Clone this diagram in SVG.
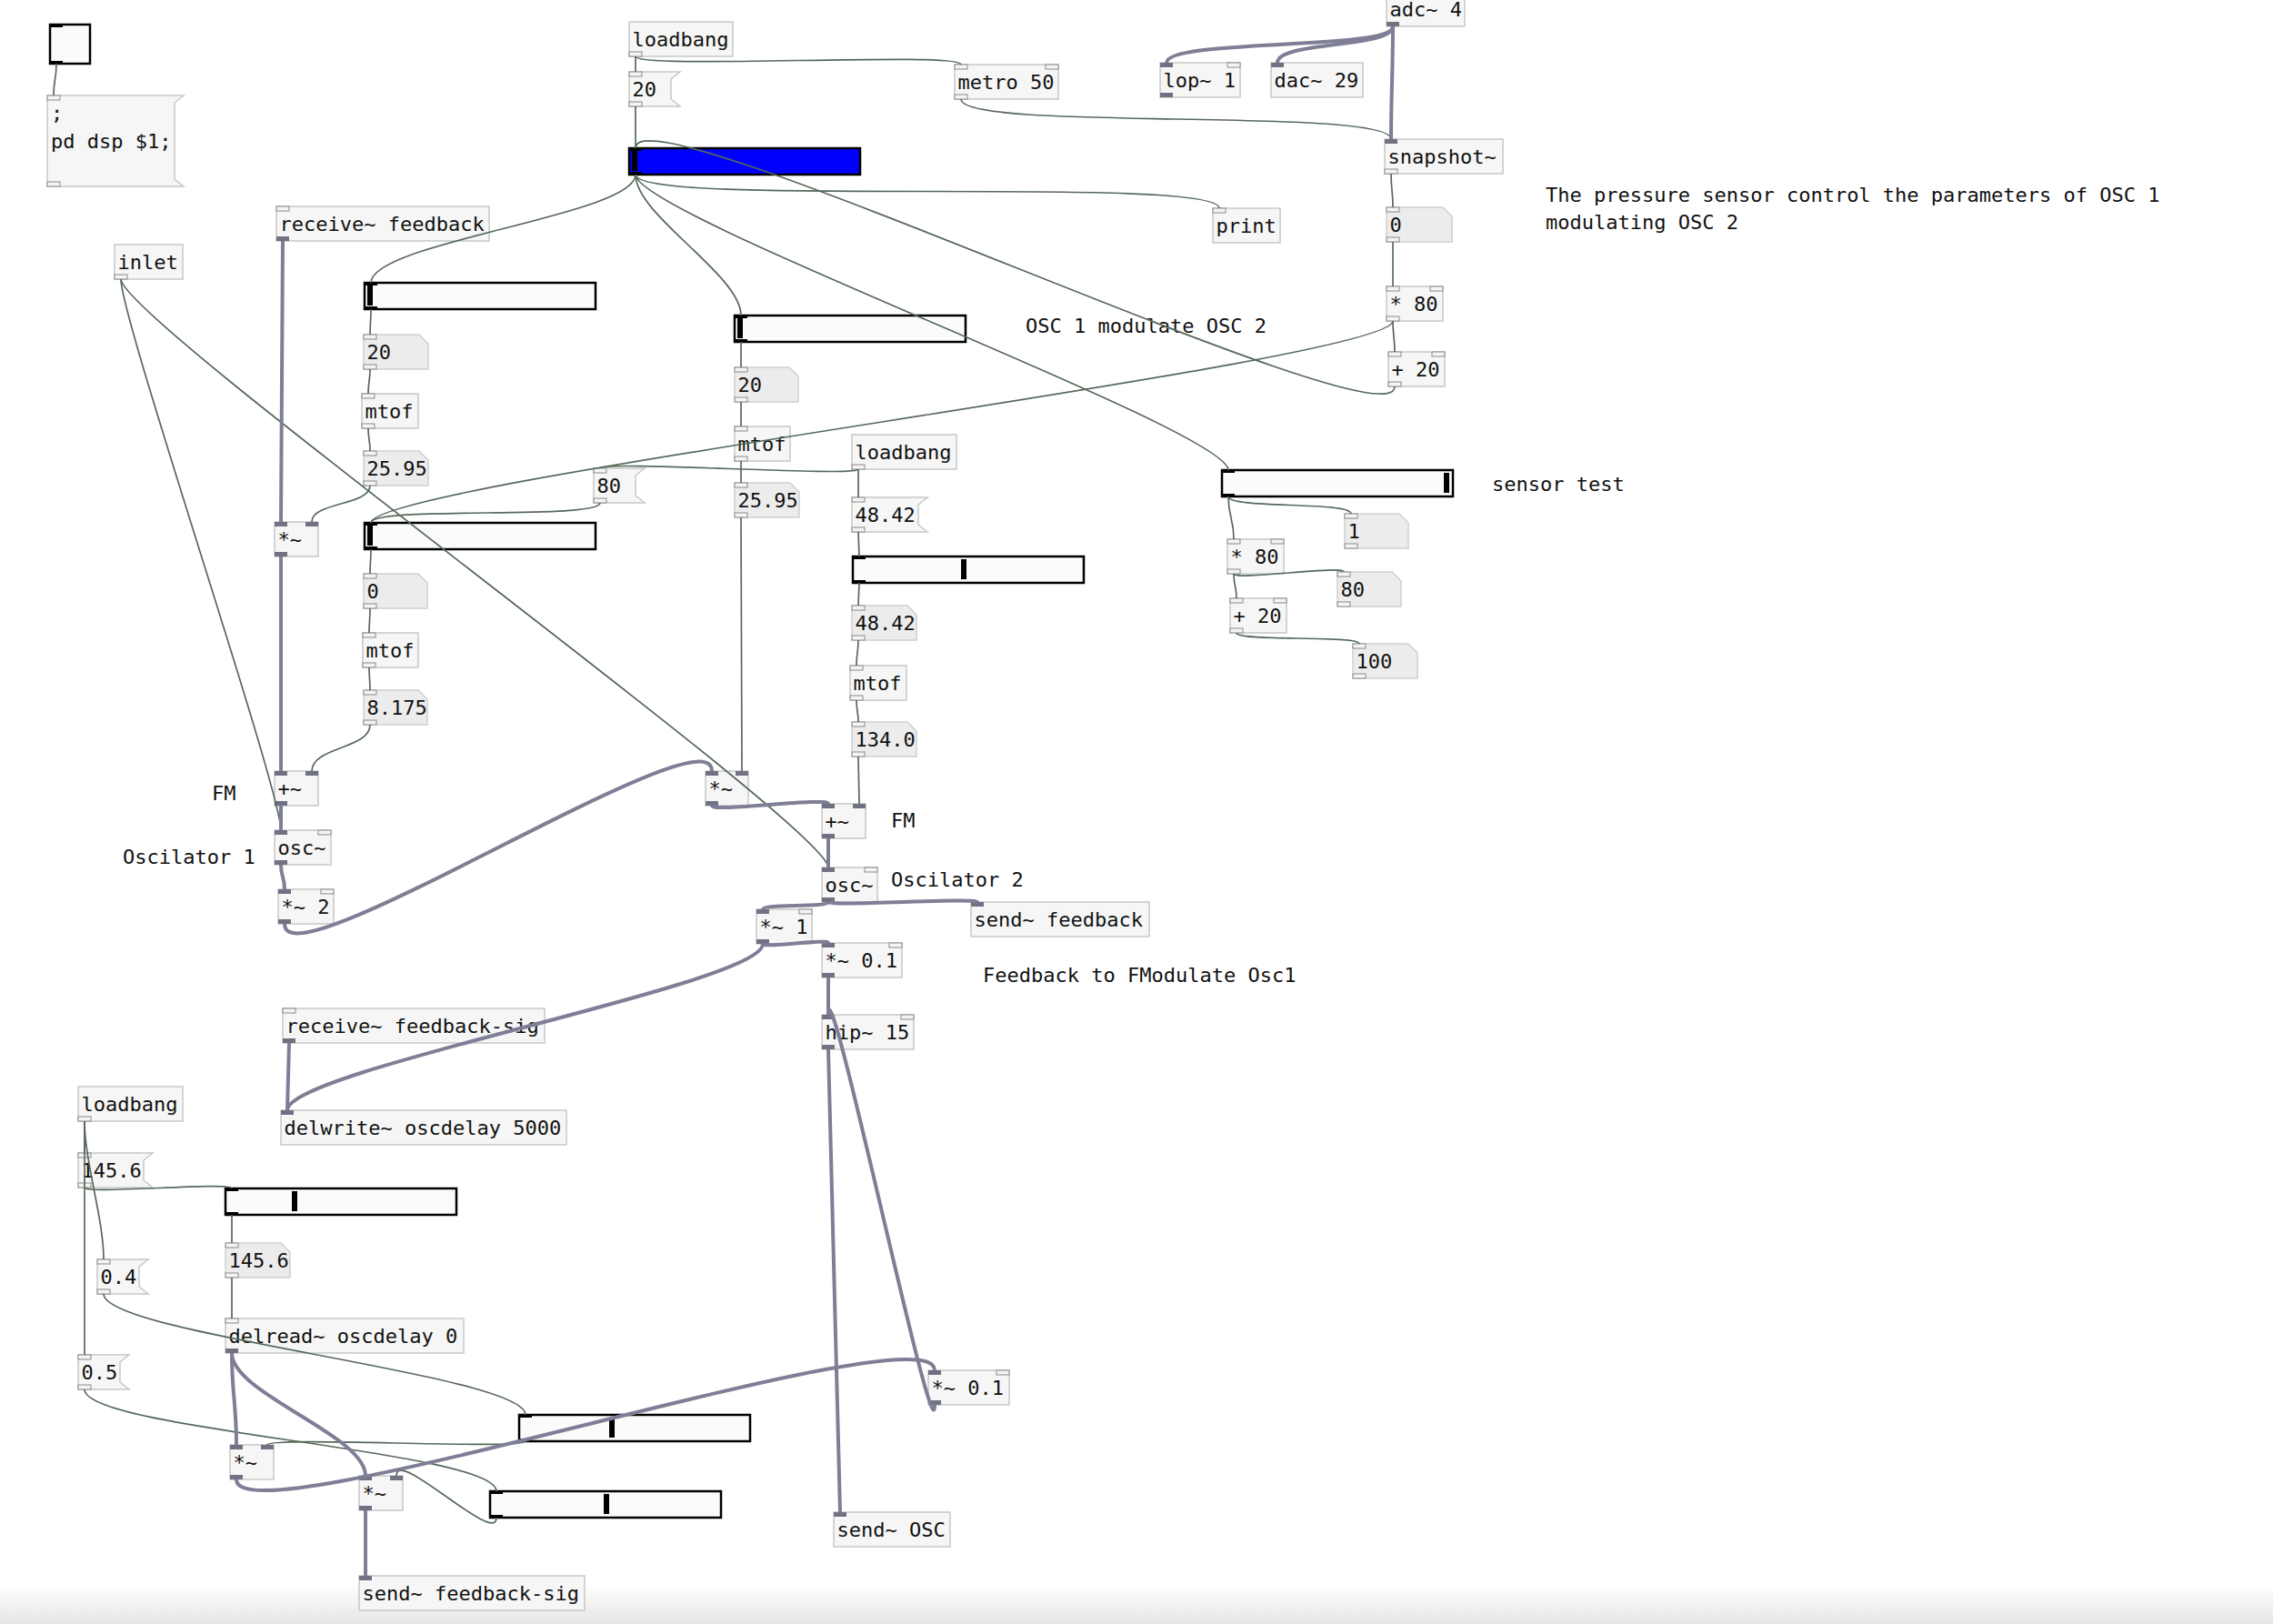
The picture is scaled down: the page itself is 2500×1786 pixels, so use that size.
<svg xmlns="http://www.w3.org/2000/svg" xmlns:xlink="http://www.w3.org/1999/xlink" width="2500" height="1786" viewBox="0 0 2500 1786">
<style>
.o{fill:#f5f6f5;stroke:#c8c8c8;stroke-width:1.5}
.a{fill:#ececec;stroke:#d0d0d0;stroke-width:1.5}
.t{font-family:"DejaVu Sans Mono","Liberation Mono",monospace;font-size:22px;fill:#111}
.sl{fill:#fbfbfb;stroke:#000;stroke-width:2.5}
.k{fill:#000}
.c{fill:none;stroke:#56695a;stroke-width:1.7}
.s{fill:none;stroke:#7e7e96;stroke-width:4}
</style>
<defs>
<rect id="ic" width="14" height="5" fill="#f4f4f4" stroke="#8a8a8a" stroke-width="1"/>
<rect id="is" width="14" height="5" fill="#717184"/>
<linearGradient id="bg" x1="0" y1="0" x2="0" y2="1"><stop offset="0" stop-color="#ffffff"/><stop offset="1" stop-color="#e6e6e6"/></linearGradient>
</defs>
<rect width="2500" height="1786" fill="#fff"/>
<rect x="0" y="1742" width="2500" height="44" fill="url(#bg)"/>

<g id="nodes">
<g id="toggle"><rect class="sl" x="55" y="27" width="44" height="43"/><rect class="k" x="55" y="27" width="14" height="3"/><rect class="k" x="55" y="67" width="14" height="3"/></g>
<g id="msg_dsp"><polygon class="o" points="52,105 202,105 192,113 192,197 202,205 52,205"/><use href="#ic" x="52" y="105"/><use href="#ic" x="52" y="200"/><text class="t" x="56" y="132">;</text><text class="t" x="56" y="163">pd dsp $1;</text></g>

<g id="loadbang1"><rect class="o" x="692" y="24" width="114" height="38"/><use href="#ic" x="692" y="57"/><text class="t" x="695.5" y="51">loadbang</text></g>
<g id="msg20"><polygon class="o" points="692,79 748,79 738,87 738,109 748,117 692,117"/><use href="#ic" x="692" y="79"/><use href="#ic" x="692" y="112"/><text class="t" x="695.5" y="106">20</text></g>
<g id="slider_blue"><rect x="692" y="163" width="254" height="29" fill="#0000ff" stroke="#000" stroke-width="2.5"/><rect class="k" x="695" y="166" width="6" height="22"/><rect class="k" x="692" y="163" width="14" height="3"/><rect class="k" x="692" y="189" width="14" height="3"/></g>
<g id="metro"><rect class="o" x="1050" y="71" width="114" height="38"/><use href="#ic" x="1050" y="71"/><use href="#ic" x="1150" y="71"/><use href="#ic" x="1050" y="104"/><text class="t" x="1053.5" y="98">metro 50</text></g>
<g id="adc"><rect class="o" x="1525" y="-9" width="86" height="38"/><use href="#is" x="1525" y="24"/><text class="t" x="1528.5" y="18">adc~ 4</text></g>
<g id="lop"><rect class="o" x="1276" y="69" width="88" height="38"/><use href="#is" x="1276" y="69"/><use href="#ic" x="1350" y="69"/><use href="#is" x="1276" y="102"/><text class="t" x="1279.5" y="96">lop~ 1</text></g>
<g id="dac"><rect class="o" x="1398" y="69" width="101" height="38"/><use href="#is" x="1398" y="69"/><text class="t" x="1401.5" y="96">dac~ 29</text></g>
<g id="snapshot"><rect class="o" x="1523" y="153" width="130" height="38"/><use href="#is" x="1523" y="153"/><use href="#ic" x="1523" y="186"/><text class="t" x="1526.5" y="180">snapshot~</text></g>
<g id="print"><rect class="o" x="1334" y="229" width="74" height="38"/><use href="#ic" x="1334" y="229"/><text class="t" x="1337.5" y="256">print</text></g>
<g id="num_snap"><polygon class="a" points="1525,228 1587,228 1597,238 1597,266 1525,266"/><use href="#ic" x="1525" y="228"/><use href="#ic" x="1525" y="261"/><text class="t" x="1528.5" y="255">0</text></g>
<g id="mul80_u"><rect class="o" x="1525" y="315" width="62" height="38"/><use href="#ic" x="1525" y="315"/><use href="#ic" x="1573" y="315"/><use href="#ic" x="1525" y="348"/><text class="t" x="1528.5" y="342">* 80</text></g>
<g id="add20_u"><rect class="o" x="1527" y="387" width="62" height="38"/><use href="#ic" x="1527" y="387"/><use href="#ic" x="1575" y="387"/><use href="#ic" x="1527" y="420"/><text class="t" x="1530.5" y="414">+ 20</text></g>
<g id="cmt_pressure"><text class="t" x="1700" y="222">The pressure sensor control the parameters of OSC 1</text><text class="t" x="1700" y="252">modulating OSC 2</text></g>
<g id="cmt_osc1mod"><text class="t" x="1128" y="366">OSC 1 modulate OSC 2</text></g>
<g id="cmt_sensor"><text class="t" x="1641" y="540">sensor test</text></g>

<g id="slider_sensor"><rect class="sl" x="1344" y="517" width="254" height="29"/><rect class="k" x="1588" y="520" width="6" height="22"/><rect class="k" x="1344" y="517" width="14" height="3"/><rect class="k" x="1344" y="543" width="14" height="3"/></g>
<g id="num_1"><polygon class="a" points="1479,565 1539,565 1549,575 1549,603 1479,603"/><use href="#ic" x="1479" y="565"/><use href="#ic" x="1479" y="598"/><text class="t" x="1482.5" y="592">1</text></g>
<g id="mul80_l"><rect class="o" x="1350" y="593" width="62" height="38"/><use href="#ic" x="1350" y="593"/><use href="#ic" x="1398" y="593"/><use href="#ic" x="1350" y="626"/><text class="t" x="1353.5" y="620">* 80</text></g>
<g id="num_80l"><polygon class="a" points="1471,629 1531,629 1541,639 1541,667 1471,667"/><use href="#ic" x="1471" y="629"/><use href="#ic" x="1471" y="662"/><text class="t" x="1474.5" y="656">80</text></g>
<g id="add20_l"><rect class="o" x="1353" y="658" width="62" height="38"/><use href="#ic" x="1353" y="658"/><use href="#ic" x="1401" y="658"/><use href="#ic" x="1353" y="691"/><text class="t" x="1356.5" y="685">+ 20</text></g>
<g id="num_100"><polygon class="a" points="1488,708 1549,708 1559,718 1559,746 1488,746"/><use href="#ic" x="1488" y="708"/><use href="#ic" x="1488" y="741"/><text class="t" x="1491.5" y="735">100</text></g>

<g id="recv_fb"><rect class="o" x="304" y="227" width="234" height="38"/><use href="#ic" x="304" y="227"/><use href="#is" x="304" y="260"/><text class="t" x="307.5" y="254">receive~ feedback</text></g>
<g id="inlet"><rect class="o" x="126" y="269" width="75" height="38"/><use href="#ic" x="126" y="302"/><text class="t" x="129.5" y="296">inlet</text></g>
<g id="slider_a"><rect class="sl" x="401" y="311" width="254" height="29"/><rect class="k" x="404" y="314" width="6" height="22"/><rect class="k" x="401" y="311" width="14" height="3"/><rect class="k" x="401" y="337" width="14" height="3"/></g>
<g id="num_20a"><polygon class="a" points="400,368 461,368 471,378 471,406 400,406"/><use href="#ic" x="400" y="368"/><use href="#ic" x="400" y="401"/><text class="t" x="403.5" y="395">20</text></g>
<g id="mtof_a"><rect class="o" x="398" y="433" width="62" height="38"/><use href="#ic" x="398" y="433"/><use href="#ic" x="398" y="466"/><text class="t" x="401.5" y="460">mtof</text></g>
<g id="num_2595a"><polygon class="a" points="400,496 461,496 471,506 471,534 400,534"/><use href="#ic" x="400" y="496"/><use href="#ic" x="400" y="529"/><text class="t" x="403.5" y="523">25.95</text></g>
<g id="msg80"><polygon class="o" points="653,515 709,515 699,523 699,545 709,553 653,553"/><use href="#ic" x="653" y="515"/><use href="#ic" x="653" y="548"/><text class="t" x="656.5" y="542">80</text></g>
<g id="mul_a"><rect class="o" x="302" y="574" width="48" height="38"/><use href="#is" x="302" y="574"/><use href="#is" x="336" y="574"/><use href="#is" x="302" y="607"/><text class="t" x="305.5" y="601">*~</text></g>
<g id="slider_b"><rect class="sl" x="401" y="575" width="254" height="29"/><rect class="k" x="404" y="578" width="6" height="22"/><rect class="k" x="401" y="575" width="14" height="3"/><rect class="k" x="401" y="601" width="14" height="3"/></g>
<g id="num_0b"><polygon class="a" points="400,631 460,631 470,641 470,669 400,669"/><use href="#ic" x="400" y="631"/><use href="#ic" x="400" y="664"/><text class="t" x="403.5" y="658">0</text></g>
<g id="mtof_b"><rect class="o" x="399" y="696" width="61" height="38"/><use href="#ic" x="399" y="696"/><use href="#ic" x="399" y="729"/><text class="t" x="402.5" y="723">mtof</text></g>
<g id="num_8175"><polygon class="a" points="400,759 460,759 470,769 470,797 400,797"/><use href="#ic" x="400" y="759"/><use href="#ic" x="400" y="792"/><text class="t" x="403.5" y="786">8.175</text></g>
<g id="add_a"><rect class="o" x="302" y="848" width="48" height="38"/><use href="#is" x="302" y="848"/><use href="#is" x="336" y="848"/><use href="#is" x="302" y="881"/><text class="t" x="305.5" y="875">+~</text></g>
<g id="cmt_fm1"><text class="t" x="233" y="880">FM</text></g>
<g id="osc_a"><rect class="o" x="302" y="913" width="62" height="38"/><use href="#is" x="302" y="913"/><use href="#ic" x="350" y="913"/><use href="#is" x="302" y="946"/><text class="t" x="305.5" y="940">osc~</text></g>
<g id="cmt_osc1"><text class="t" x="135" y="950">Oscilator 1</text></g>
<g id="mul2"><rect class="o" x="306" y="978" width="61" height="38"/><use href="#is" x="306" y="978"/><use href="#ic" x="353" y="978"/><use href="#is" x="306" y="1011"/><text class="t" x="309.5" y="1005">*~ 2</text></g>

<g id="slider_d"><rect class="sl" x="808" y="347" width="254" height="29"/><rect class="k" x="811" y="350" width="6" height="22"/><rect class="k" x="808" y="347" width="14" height="3"/><rect class="k" x="808" y="373" width="14" height="3"/></g>
<g id="num_20d"><polygon class="a" points="808,404 868,404 878,414 878,442 808,442"/><use href="#ic" x="808" y="404"/><use href="#ic" x="808" y="437"/><text class="t" x="811.5" y="431">20</text></g>
<g id="mtof_d"><rect class="o" x="808" y="469" width="61" height="38"/><use href="#ic" x="808" y="469"/><use href="#ic" x="808" y="502"/><text class="t" x="811.5" y="496">mtof</text></g>
<g id="num_2595d"><polygon class="a" points="808,531 869,531 879,541 879,569 808,569"/><use href="#ic" x="808" y="531"/><use href="#ic" x="808" y="564"/><text class="t" x="811.5" y="558">25.95</text></g>
<g id="mul_mid"><rect class="o" x="776" y="848" width="47" height="38"/><use href="#is" x="776" y="848"/><use href="#is" x="809" y="848"/><use href="#is" x="776" y="881"/><text class="t" x="779.5" y="875">*~</text></g>
<g id="loadbang2"><rect class="o" x="937" y="478" width="115" height="38"/><use href="#ic" x="937" y="511"/><text class="t" x="940.5" y="505">loadbang</text></g>
<g id="msg4842"><polygon class="o" points="937,547 1020,547 1010,555 1010,577 1020,585 937,585"/><use href="#ic" x="937" y="547"/><use href="#ic" x="937" y="580"/><text class="t" x="940.5" y="574">48.42</text></g>
<g id="slider_c"><rect class="sl" x="938" y="612" width="254" height="29"/><rect class="k" x="1057" y="615" width="6" height="22"/><rect class="k" x="938" y="612" width="14" height="3"/><rect class="k" x="938" y="638" width="14" height="3"/></g>
<g id="num_4842"><polygon class="a" points="937,666 998,666 1008,676 1008,704 937,704"/><use href="#ic" x="937" y="666"/><use href="#ic" x="937" y="699"/><text class="t" x="940.5" y="693">48.42</text></g>
<g id="mtof_c"><rect class="o" x="935" y="732" width="62" height="38"/><use href="#ic" x="935" y="732"/><use href="#ic" x="935" y="765"/><text class="t" x="938.5" y="759">mtof</text></g>
<g id="num_134"><polygon class="a" points="937,794 998,794 1008,804 1008,832 937,832"/><use href="#ic" x="937" y="794"/><use href="#ic" x="937" y="827"/><text class="t" x="940.5" y="821">134.0</text></g>
<g id="add_b"><rect class="o" x="904" y="884" width="48" height="38"/><use href="#is" x="904" y="884"/><use href="#is" x="938" y="884"/><use href="#is" x="904" y="917"/><text class="t" x="907.5" y="911">+~</text></g>
<g id="cmt_fm2"><text class="t" x="980" y="910">FM</text></g>
<g id="osc_b"><rect class="o" x="904" y="954" width="61" height="38"/><use href="#is" x="904" y="954"/><use href="#ic" x="951" y="954"/><use href="#is" x="904" y="987"/><text class="t" x="907.5" y="981">osc~</text></g>
<g id="cmt_osc2"><text class="t" x="980" y="975">Oscilator 2</text></g>
<g id="mul1"><rect class="o" x="832" y="1000" width="61" height="38"/><use href="#is" x="832" y="1000"/><use href="#ic" x="879" y="1000"/><use href="#is" x="832" y="1033"/><text class="t" x="835.5" y="1027">*~ 1</text></g>
<g id="send_fb"><rect class="o" x="1068" y="992" width="196" height="38"/><use href="#is" x="1068" y="992"/><text class="t" x="1071.5" y="1019">send~ feedback</text></g>
<g id="mul01_u"><rect class="o" x="904" y="1037" width="88" height="38"/><use href="#is" x="904" y="1037"/><use href="#ic" x="978" y="1037"/><use href="#is" x="904" y="1070"/><text class="t" x="907.5" y="1064">*~ 0.1</text></g>
<g id="cmt_feedback"><text class="t" x="1081" y="1080">Feedback to FModulate Osc1</text></g>
<g id="recv_fbsig"><rect class="o" x="311" y="1109" width="288" height="38"/><use href="#ic" x="311" y="1109"/><use href="#is" x="311" y="1142"/><text class="t" x="314.5" y="1136">receive~ feedback-sig</text></g>
<g id="delwrite"><rect class="o" x="309" y="1221" width="314" height="38"/><use href="#is" x="309" y="1221"/><text class="t" x="312.5" y="1248">delwrite~ oscdelay 5000</text></g>
<g id="hip"><rect class="o" x="904" y="1116" width="101" height="38"/><use href="#is" x="904" y="1116"/><use href="#ic" x="991" y="1116"/><use href="#is" x="904" y="1149"/><text class="t" x="907.5" y="1143">hip~ 15</text></g>
<g id="send_osc"><rect class="o" x="917" y="1663" width="128" height="38"/><use href="#is" x="917" y="1663"/><text class="t" x="920.5" y="1690">send~ OSC</text></g>
<g id="mul01_l"><rect class="o" x="1021" y="1507" width="89" height="38"/><use href="#is" x="1021" y="1507"/><use href="#ic" x="1096" y="1507"/><use href="#is" x="1021" y="1540"/><text class="t" x="1024.5" y="1534">*~ 0.1</text></g>

<g id="loadbang3"><rect class="o" x="86" y="1195" width="115" height="38"/><use href="#ic" x="86" y="1228"/><text class="t" x="89.5" y="1222">loadbang</text></g>
<g id="msg1456"><polygon class="o" points="86,1268 168,1268 158,1276 158,1298 168,1306 86,1306"/><use href="#ic" x="86" y="1268"/><use href="#ic" x="86" y="1301"/><text class="t" x="89.5" y="1295">145.6</text></g>
<g id="slider_e"><rect class="sl" x="248" y="1307" width="254" height="29"/><rect class="k" x="321" y="1310" width="6" height="22"/><rect class="k" x="248" y="1307" width="14" height="3"/><rect class="k" x="248" y="1333" width="14" height="3"/></g>
<g id="num_1456"><polygon class="a" points="248,1367 309,1367 319,1377 319,1405 248,1405"/><use href="#ic" x="248" y="1367"/><use href="#ic" x="248" y="1400"/><text class="t" x="251.5" y="1394">145.6</text></g>
<g id="msg04"><polygon class="o" points="107,1385 163,1385 153,1393 153,1415 163,1423 107,1423"/><use href="#ic" x="107" y="1385"/><use href="#ic" x="107" y="1418"/><text class="t" x="110.5" y="1412">0.4</text></g>
<g id="delread"><rect class="o" x="248" y="1450" width="262" height="38"/><use href="#ic" x="248" y="1450"/><use href="#is" x="248" y="1483"/><text class="t" x="251.5" y="1477">delread~ oscdelay 0</text></g>
<g id="msg05"><polygon class="o" points="86,1490 142,1490 132,1498 132,1520 142,1528 86,1528"/><use href="#ic" x="86" y="1490"/><use href="#ic" x="86" y="1523"/><text class="t" x="89.5" y="1517">0.5</text></g>
<g id="slider_f"><rect class="sl" x="571" y="1556" width="254" height="29"/><rect class="k" x="670" y="1559" width="6" height="22"/><rect class="k" x="571" y="1556" width="14" height="3"/><rect class="k" x="571" y="1582" width="14" height="3"/></g>
<g id="mul_bl"><rect class="o" x="253" y="1589" width="48" height="38"/><use href="#is" x="253" y="1589"/><use href="#is" x="287" y="1589"/><use href="#is" x="253" y="1622"/><text class="t" x="256.5" y="1616">*~</text></g>
<g id="mul_bm"><rect class="o" x="395" y="1623" width="48" height="38"/><use href="#is" x="395" y="1623"/><use href="#is" x="429" y="1623"/><use href="#is" x="395" y="1656"/><text class="t" x="398.5" y="1650">*~</text></g>
<g id="slider_g"><rect class="sl" x="539" y="1640" width="254" height="29"/><rect class="k" x="664" y="1643" width="6" height="22"/><rect class="k" x="539" y="1640" width="14" height="3"/><rect class="k" x="539" y="1666" width="14" height="3"/></g>
<g id="send_fbsig"><rect class="o" x="395" y="1733" width="248" height="38"/><use href="#is" x="395" y="1733"/><text class="t" x="398.5" y="1760">send~ feedback-sig</text></g>
</g>

<g id="connectors">
<path class="c" d="M62 70 C62 88 59 87 59 105"/>
<path class="c" d="M699 62 L699 79"/>
<path class="c" d="M699 62 C699 77 1057 56 1057 71"/>
<path class="c" d="M699 117 L699 163"/>
<path class="c" d="M699 192 C699 237 408 266 408 311"/>
<path class="c" d="M699 192 C699 237 815 302 815 347"/>
<path class="c" d="M699 192 C699 237 1351 472 1351 517"/>
<path class="c" d="M699 192 C699 229 1341 192 1341 229"/>
<path class="c" d="M1057 109 C1057 145 1530 117 1530 153"/>
<path class="c" d="M1530 191 C1530 209 1532 210 1532 228"/>
<path class="c" d="M1532 266 L1532 315"/>
<path class="c" d="M1532 353 C1532 370 1534 370 1534 387"/>
<path class="c" d="M1532 353 C1532 398 408 530 408 575"/>
<path class="c" d="M1534 425 C1534 495 699 93 699 163"/>
<path class="c" d="M408 340 C408 354 407 354 407 368"/>
<path class="c" d="M407 406 C407 420 405 419 405 433"/>
<path class="c" d="M405 471 C405 484 407 483 407 496"/>
<path class="c" d="M407 534 C407 556 343 552 343 574"/>
<path class="c" d="M408 604 C408 618 407 617 407 631"/>
<path class="c" d="M407 669 C407 683 406 682 406 696"/>
<path class="c" d="M406 734 C406 747 407 746 407 759"/>
<path class="c" d="M407 797 C407 824 343 821 343 848"/>
<path class="c" d="M133 307 C133 352 309 868 309 913"/>
<path class="c" d="M133 307 C133 352 911 909 911 954"/>
<path class="c" d="M815 376 L815 404"/>
<path class="c" d="M815 442 L815 469"/>
<path class="c" d="M815 507 L815 531"/>
<path class="c" d="M815 569 L816 848"/>
<path class="c" d="M944 516 C944 525 660 506 660 515"/>
<path class="c" d="M944 516 L944 547"/>
<path class="c" d="M660 553 C660 572 408 556 408 575"/>
<path class="c" d="M944 585 L945 612"/>
<path class="c" d="M945 641 L944 666"/>
<path class="c" d="M944 704 C944 718 942 718 942 732"/>
<path class="c" d="M942 770 C942 782 944 782 944 794"/>
<path class="c" d="M944 832 L945 884"/>
<path class="c" d="M1351 546 C1351 560 1486 551 1486 565"/>
<path class="c" d="M1351 546 C1351 569 1357 570 1357 593"/>
<path class="c" d="M1357 631 C1357 639 1478 621 1478 629"/>
<path class="c" d="M1357 631 C1357 645 1360 644 1360 658"/>
<path class="c" d="M1360 696 C1360 706 1495 698 1495 708"/>
<path class="c" d="M93 1233 L93 1268"/>
<path class="c" d="M93 1233 C93 1278 114 1340 114 1385"/>
<path class="c" d="M93 1233 L93 1490"/>
<path class="c" d="M93 1306 C93 1314 255 1299 255 1307"/>
<path class="c" d="M255 1336 L255 1367"/>
<path class="c" d="M255 1405 L255 1450"/>
<path class="c" d="M114 1423 C114 1468 578 1511 578 1556"/>
<path class="c" d="M93 1528 C93 1573 546 1595 546 1640"/>
<path class="c" d="M578 1585 C578 1595 294 1579 294 1589"/>
<path class="c" d="M546 1669 C546 1701 436 1591 436 1623"/>

<path class="s" d="M1532 29 C1532 74 1530 108 1530 153"/>
<path class="s" d="M1532 29 C1532 56 1283 42 1283 69"/>
<path class="s" d="M1532 29 C1532 53 1405 45 1405 69"/>
<path class="s" d="M311 265 L309 574"/>
<path class="s" d="M309 612 L309 848"/>
<path class="s" d="M309 886 L309 913"/>
<path class="s" d="M309 951 C309 965 313 964 313 978"/>
<path class="s" d="M313 1016 C313 1086 783 778 783 848"/>
<path class="s" d="M783 886 C783 894 911 876 911 884"/>
<path class="s" d="M911 922 L911 954"/>
<path class="s" d="M911 992 C911 997 1075 987 1075 992"/>
<path class="s" d="M911 992 C911 998 839 994 839 1000"/>
<path class="s" d="M839 1038 C839 1043 911 1032 911 1037"/>
<path class="s" d="M839 1038 C839 1083 316 1176 316 1221"/>
<path class="s" d="M318 1147 L316 1221"/>
<path class="s" d="M911 1075 L911 1116"/>
<path class="s" d="M911 1154 C911 1199 924 1618 924 1663"/>
<path class="s" d="M1028 1545 C1028 1612 911 1049 911 1116"/>
<path class="s" d="M255 1488 C255 1533 260 1544 260 1589"/>
<path class="s" d="M255 1488 C255 1533 402 1578 402 1623"/>
<path class="s" d="M260 1627 C260 1697 1028 1437 1028 1507"/>
<path class="s" d="M402 1661 L402 1733"/>
</g>
</svg>
